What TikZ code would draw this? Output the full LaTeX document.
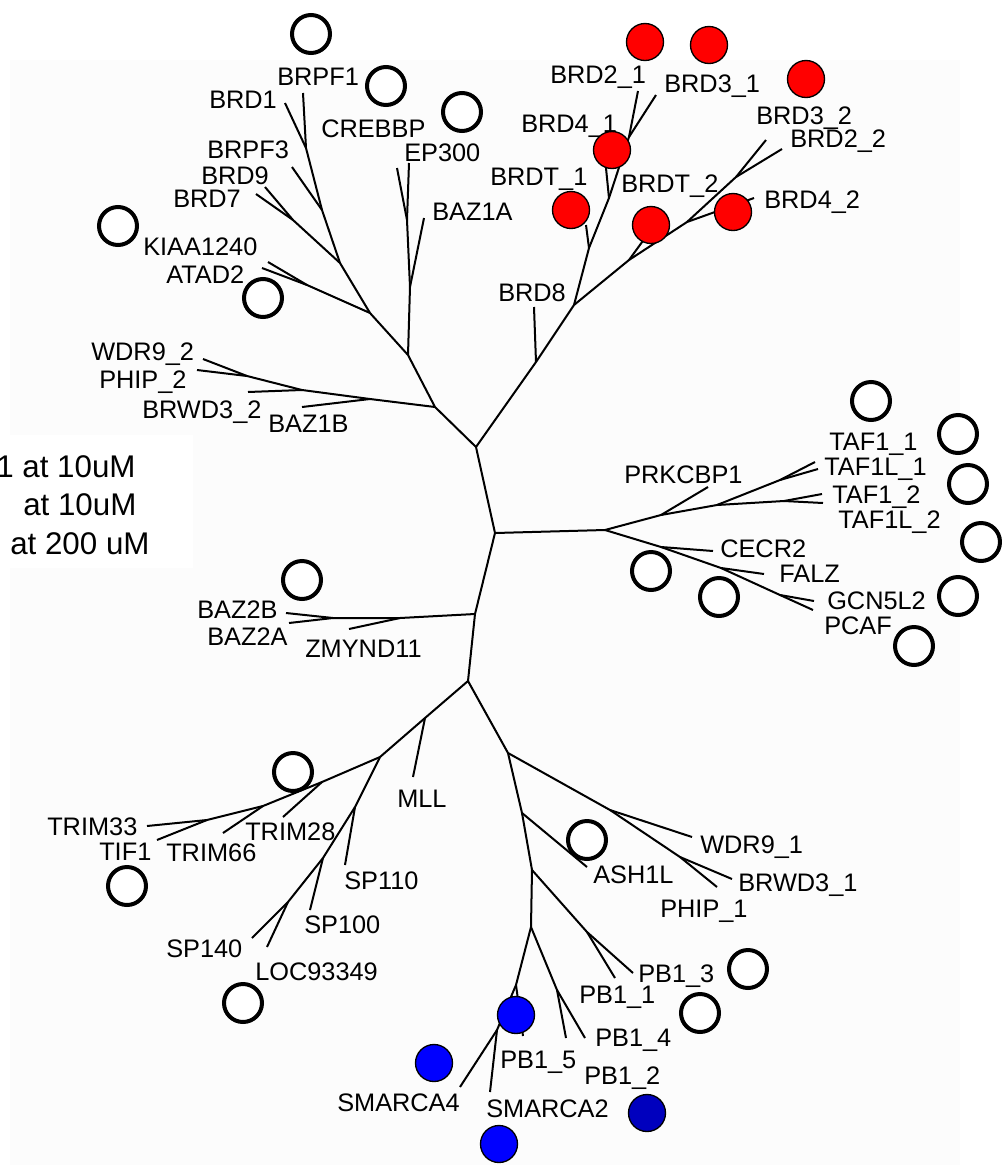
\documentclass[tikz,border=0pt]{standalone}
\usepackage{fontspec}
\setmainfont{Liberation Sans}
\definecolor{hitred}{RGB}{255,0,0}
\definecolor{hitblue}{RGB}{0,0,255}
\definecolor{hitdark}{RGB}{0,0,190}
\tikzset{
  branch/.style={line width=1.5pt, line join=round},
  lbl/.style={anchor=base west, inner sep=0pt, font=\fontsize{19}{22}\selectfont},
  key/.style={anchor=base west, inner sep=0pt, font=\fontsize{23.5}{28}\selectfont},
  ring/.style={circle, draw, fill=white, line width=3pt, minimum size=28.5pt, inner sep=0pt},
  hit/.style={circle, draw, fill=#1, line width=1pt, minimum size=27.75pt, inner sep=0pt},
}
\begin{document}
\begin{tikzpicture}[x=0.75pt, y=-0.75pt]
	\useasboundingbox (0, 0) rectangle (1001, 1165);
	% faint panel and key box
	\fill[black!1] (10, 60) rectangle (960, 1165);
	\fill[white] (0, 435) rectangle (193, 568);
	% trunk
	\coordinate (r1) at (476, 447);
	\coordinate (r2) at (495, 533);
	\coordinate (r3) at (475, 614);
	\coordinate (r4) at (468, 681);
	% upper left clade
	\coordinate (u1) at (435, 407);
	\coordinate (u2) at (408, 355);
	\coordinate (u3) at (370, 313);
	\coordinate (u4) at (340, 263);
	\coordinate (u5) at (322, 210);
	\coordinate (u6) at (306, 148);
	\coordinate (u7) at (293, 220);
	\coordinate (u8) at (307, 285);
	\coordinate (u9) at (410, 287);
	\coordinate (u10) at (407, 220);
	\coordinate (u11) at (370, 399);
	\coordinate (u12) at (302, 390);
	\coordinate (u13) at (247, 376);
	\coordinate (tBRPF1) at (303, 93);
	\coordinate (tBRD1) at (285, 103);
	\coordinate (tBRPF3) at (292, 167);
	\coordinate (tBRD9) at (265, 187);
	\coordinate (tBRD7) at (256, 194);
	\coordinate (tKIAA) at (268, 262);
	\coordinate (tATAD2) at (262, 268);
	\coordinate (tEP300) at (409, 163);
	\coordinate (tCREBBP) at (397, 168);
	\coordinate (tBAZ1A) at (424, 218);
	\coordinate (tWDR9b) at (203, 359);
	\coordinate (tPHIPb) at (197, 370);
	\coordinate (tBRWD3b) at (248, 392);
	\coordinate (tBAZ1B) at (302, 407);
	% BET clade
	\coordinate (b1) at (536, 362);
	\coordinate (b2) at (574, 305);
	\coordinate (b3) at (589, 248);
	\coordinate (b4) at (609, 198);
	\coordinate (b5) at (629, 137);
	\coordinate (b6) at (629, 260);
	\coordinate (b7) at (687, 222);
	\coordinate (b8) at (736, 177);
	\coordinate (tBRD8) at (534, 307);
	\coordinate (tBRDTa) at (586, 225);
	\coordinate (tBRD4a) at (606, 168);
	\coordinate (tBRD2a) at (638, 91);
	\coordinate (tBRD3a) at (656, 95);
	\coordinate (tBRDTb) at (645, 238);
	\coordinate (tBRD4b) at (754, 198);
	\coordinate (tBRD3b) at (766, 140);
	\coordinate (tBRD2b) at (782, 149);
	% TAF / GCN5 clade
	\coordinate (c1) at (605, 530);
	\coordinate (c2) at (661, 515);
	\coordinate (c3) at (717, 505);
	\coordinate (c4) at (780, 480);
	\coordinate (c5) at (784, 501);
	\coordinate (c6) at (661, 547);
	\coordinate (c7) at (721, 568);
	\coordinate (c8) at (780, 595);
	\coordinate (tPRKCBP1) at (708, 487);
	\coordinate (tTAF1a) at (815, 462);
	\coordinate (tTAF1La) at (818, 469);
	\coordinate (tTAF1b) at (822, 494);
	\coordinate (tTAF1Lb) at (823, 503);
	\coordinate (tCECR2) at (713, 551);
	\coordinate (tFALZ) at (764, 574);
	\coordinate (tGCN5L2) at (814, 601);
	\coordinate (tPCAF) at (813, 610);
	% BAZ2 clade
	\coordinate (z1) at (400, 618);
	\coordinate (z2) at (333, 618);
	\coordinate (tZMYND11) at (349, 629);
	\coordinate (tBAZ2B) at (286, 613);
	\coordinate (tBAZ2A) at (289, 623);
	% TRIM / SP clade
	\coordinate (m1) at (425, 718);
	\coordinate (m2) at (380, 757);
	\coordinate (t1) at (322, 782);
	\coordinate (t2) at (263, 806);
	\coordinate (t3) at (207, 820);
	\coordinate (s1) at (355, 807);
	\coordinate (s2) at (323, 858);
	\coordinate (s3) at (288, 902);
	\coordinate (tMLL) at (413, 777);
	\coordinate (tTRIM28) at (283, 817);
	\coordinate (tTRIM66) at (223, 833);
	\coordinate (tTRIM33) at (147, 826);
	\coordinate (tTIF1) at (157, 840);
	\coordinate (tSP110) at (345, 865);
	\coordinate (tSP100) at (310, 910);
	\coordinate (tSP140) at (252, 938);
	\coordinate (tLOC) at (267, 947);
	% PB1 / SMARCA clade
	\coordinate (p1) at (508, 753);
	\coordinate (p2) at (522, 813);
	\coordinate (p3) at (532, 870);
	\coordinate (p4) at (587, 932);
	\coordinate (p5) at (531, 927);
	\coordinate (p6) at (516, 985);
	\coordinate (p7) at (497, 1030);
	\coordinate (p8) at (557, 990);
	\coordinate (w1) at (610, 810);
	\coordinate (w2) at (680, 857);
	\coordinate (tWDR9a) at (692, 837);
	\coordinate (tBRWD3a) at (732, 879);
	\coordinate (tPHIPa) at (717, 887);
	\coordinate (tASH1L) at (587, 867);
	\coordinate (tPB11) at (615, 978);
	\coordinate (tPB13) at (633, 973);
	\coordinate (tPB15) at (523, 1036);
	\coordinate (tSMARCA4) at (460, 1087);
	\coordinate (tSMARCA2) at (490, 1092);
	\coordinate (tPB12) at (566, 1038);
	\coordinate (tPB14) at (585, 1038);

	% branches
	\draw[branch] (u1) -- (r1) -- (r2) -- (r3) -- (r4);
	\draw[branch] (r1) -- (b1) -- (b2);
	\draw[branch] (r2) -- (c1);
	\draw[branch] (r3) -- (z1) -- (z2);
	\draw[branch] (r4) -- (m1) -- (m2);
	\draw[branch] (r4) -- (p1) -- (p2) -- (p3) -- (p5);

	\draw[branch] (u1) -- (u2) -- (u3) -- (u4) -- (u5) -- (u6) -- (tBRPF1);
	\draw[branch] (u6) -- (tBRD1);
	\draw[branch] (u5) -- (tBRPF3);
	\draw[branch] (u4) -- (u7) -- (tBRD9);
	\draw[branch] (u7) -- (tBRD7);
	\draw[branch] (u3) -- (u8) -- (tKIAA);
	\draw[branch] (u8) -- (tATAD2);
	\draw[branch] (u2) -- (u9) -- (u10) -- (tEP300);
	\draw[branch] (u10) -- (tCREBBP);
	\draw[branch] (u9) -- (tBAZ1A);
	\draw[branch] (u1) -- (u11) -- (u12) -- (u13) -- (tWDR9b);
	\draw[branch] (u13) -- (tPHIPb);
	\draw[branch] (u12) -- (tBRWD3b);
	\draw[branch] (u11) -- (tBAZ1B);

	\draw[branch] (b1) -- (tBRD8);
	\draw[branch] (b2) -- (b3) -- (b4) -- (b5) -- (tBRD2a);
	\draw[branch] (b5) -- (tBRD3a);
	\draw[branch] (b4) -- (tBRD4a);
	\draw[branch] (b3) -- (tBRDTa);
	\draw[branch] (b2) -- (b6) -- (b7) -- (b8) -- (tBRD3b);
	\draw[branch] (b8) -- (tBRD2b);
	\draw[branch] (b7) -- (tBRD4b);
	\draw[branch] (b6) -- (tBRDTb);

	\draw[branch] (c1) -- (c2) -- (c3) -- (c4) -- (tTAF1a);
	\draw[branch] (c4) -- (tTAF1La);
	\draw[branch] (c3) -- (c5) -- (tTAF1b);
	\draw[branch] (c5) -- (tTAF1Lb);
	\draw[branch] (c2) -- (tPRKCBP1);
	\draw[branch] (c1) -- (c6) -- (c7) -- (c8) -- (tGCN5L2);
	\draw[branch] (c8) -- (tPCAF);
	\draw[branch] (c7) -- (tFALZ);
	\draw[branch] (c6) -- (tCECR2);

	\draw[branch] (z1) -- (tZMYND11);
	\draw[branch] (z2) -- (tBAZ2B);
	\draw[branch] (z2) -- (tBAZ2A);

	\draw[branch] (m1) -- (tMLL);
	\draw[branch] (m2) -- (t1) -- (t2) -- (t3) -- (tTRIM33);
	\draw[branch] (t3) -- (tTIF1);
	\draw[branch] (t2) -- (tTRIM66);
	\draw[branch] (t1) -- (tTRIM28);
	\draw[branch] (m2) -- (s1) -- (s2) -- (s3) -- (tSP140);
	\draw[branch] (s3) -- (tLOC);
	\draw[branch] (s2) -- (tSP100);
	\draw[branch] (s1) -- (tSP110);

	\draw[branch] (p1) -- (w1) -- (tWDR9a);
	\draw[branch] (w1) -- (w2) -- (tBRWD3a);
	\draw[branch] (w2) -- (tPHIPa);
	\draw[branch] (p2) -- (tASH1L);
	\draw[branch] (p3) -- (p4) -- (tPB11);
	\draw[branch] (p4) -- (tPB13);
	\draw[branch] (p5) -- (p6) -- (tPB15);
	\draw[branch] (p6) -- (p7) -- (tSMARCA4);
	\draw[branch] (p7) -- (tSMARCA2);
	\draw[branch] (p5) -- (p8) -- (tPB12);
	\draw[branch] (p8) -- (tPB14);

	% labels
	\node[lbl] (lBRPF1) at (277, 85) {BRPF1};
	\node[lbl] (lBRD1) at (209, 108) {BRD1};
	\node[lbl] (lCREBBP) at (321, 137) {CREBBP};
	\node[lbl] (lEP300) at (404, 161) {EP300};
	\node[lbl] (lBRPF3) at (207, 158) {BRPF3};
	\node[lbl] (lBRD9) at (201, 184) {BRD9};
	\node[lbl] (lBRD7) at (173, 207) {BRD7};
	\node[lbl] (lBAZ1A) at (432, 220) {BAZ1A};
	\node[lbl] (lKIAA) at (143, 255) {KIAA1240};
	\node[lbl] (lATAD2) at (166, 283) {ATAD2};
	\node[lbl] (lWDR9b) at (91, 360) {WDR9\_2};
	\node[lbl] (lPHIPb) at (99, 388) {PHIP\_2};
	\node[lbl] (lBRWD3b) at (142, 418) {BRWD3\_2};
	\node[lbl] (lBAZ1B) at (268, 432) {BAZ1B};
	\node[lbl] (lBRD2a) at (550, 83) {BRD2\_1};
	\node[lbl] (lBRD3a) at (664, 92) {BRD3\_1};
	\node[lbl] (lBRD4a) at (521, 132) {BRD4\_1};
	\node[lbl] (lBRDTa) at (490, 185) {BRDT\_1};
	\node[lbl] (lBRDTb) at (621, 192) {BRDT\_2};
	\node[lbl] (lBRD3b) at (756, 124) {BRD3\_2};
	\node[lbl] (lBRD2b) at (790, 147) {BRD2\_2};
	\node[lbl] (lBRD4b) at (764, 208) {BRD4\_2};
	\node[lbl] (lBRD8) at (498, 301) {BRD8};
	\node[lbl] (lPRKCBP1) at (624, 483) {PRKCBP1};
	\node[lbl] (lTAF1a) at (829, 450) {TAF1\_1};
	\node[lbl] (lTAF1La) at (824, 475) {TAF1L\_1};
	\node[lbl] (lTAF1b) at (832, 503) {TAF1\_2};
	\node[lbl] (lTAF1Lb) at (838, 528) {TAF1L\_2};
	\node[lbl] (lCECR2) at (720, 557) {CECR2};
	\node[lbl] (lFALZ) at (779, 582) {FALZ};
	\node[lbl] (lGCN5L2) at (827, 609) {GCN5L2};
	\node[lbl] (lPCAF) at (824, 634) {PCAF};
	\node[lbl] (lBAZ2B) at (197, 618) {BAZ2B};
	\node[lbl] (lBAZ2A) at (207, 645) {BAZ2A};
	\node[lbl] (lZMYND11) at (305, 657) {ZMYND11};
	\node[lbl] (lMLL) at (397, 807) {MLL};
	\node[lbl] (lTRIM33) at (47, 835) {TRIM33};
	\node[lbl] (lTIF1) at (99, 860) {TIF1};
	\node[lbl] (lTRIM66) at (166, 861) {TRIM66};
	\node[lbl] (lTRIM28) at (245, 840) {TRIM28};
	\node[lbl] (lSP110) at (344, 889) {SP110};
	\node[lbl] (lSP100) at (304, 933) {SP100};
	\node[lbl] (lSP140) at (166, 957) {SP140};
	\node[lbl] (lLOC) at (255, 980) {LOC93349};
	\node[lbl] (lWDR9a) at (700, 853) {WDR9\_1};
	\node[lbl] (lBRWD3a) at (738, 891) {BRWD3\_1};
	\node[lbl] (lASH1L) at (593, 883) {ASH1L};
	\node[lbl] (lPHIPa) at (660, 917) {PHIP\_1};
	\node[lbl] (lPB13) at (638, 982) {PB1\_3};
	\node[lbl] (lPB11) at (579, 1003) {PB1\_1};
	\node[lbl] (lPB14) at (595, 1046) {PB1\_4};
	\node[lbl] (lPB15) at (500, 1068) {PB1\_5};
	\node[lbl] (lPB12) at (584, 1084) {PB1\_2};
	\node[lbl] (lSMARCA4) at (337, 1111) {SMARCA4};
	\node[lbl] (lSMARCA2) at (486, 1117) {SMARCA2};

	% key, cut at the left edge
	\node[key] (keyA) at (-4, 477) {1 at 10uM};
	\node[key] (keyB) at (23, 515) {at 10uM};
	\node[key] (keyC) at (10, 554) {at 200 uM};

	% open rings
	\node[ring] (oBRPF1) at (311, 34) {};
	\node[ring] (oBRD1) at (386, 86) {};
	\node[ring] (oCREBBP) at (462, 112) {};
	\node[ring] (oKIAA) at (118, 226) {};
	\node[ring] (oATAD2) at (263, 298) {};
	\node[ring] (oTAF1a) at (871, 401) {};
	\node[ring] (oTAF1La) at (958, 434) {};
	\node[ring] (oTAF1b) at (968, 484) {};
	\node[ring] (oTAF1Lb) at (981, 542) {};
	\node[ring] (oGCN5L2) at (958, 596) {};
	\node[ring] (oPCAF) at (914, 646) {};
	\node[ring] (oCECR2) at (651, 571) {};
	\node[ring] (oFALZ) at (719, 597) {};
	\node[ring] (oBAZ2B) at (302, 580) {};
	\node[ring] (oTRIM28) at (293, 772) {};
	\node[ring] (oTIF1) at (127, 886) {};
	\node[ring] (oLOC) at (243, 1003) {};
	\node[ring] (oASH1L) at (587, 840) {};
	\node[ring] (oPB13) at (748, 969) {};
	\node[ring] (oPB11) at (700, 1013) {};

	% filled hits
	\node[hit=hitred] (hBRD2a) at (645, 42) {};
	\node[hit=hitred] (hBRD3a) at (709, 45) {};
	\node[hit=hitred] (hBRD3b) at (806, 79) {};
	\node[hit=hitred] (hBRD4a) at (612, 150) {};
	\node[hit=hitred] (hBRDTa) at (571, 210) {};
	\node[hit=hitred] (hBRDTb) at (651, 225) {};
	\node[hit=hitred] (hBRD4b) at (733, 212) {};
	\node[hit=hitblue] (hPB15) at (516, 1015) {};
	\node[hit=hitblue] (hSMARCA4) at (434, 1063) {};
	\node[hit=hitblue] (hSMARCA2) at (499, 1144) {};
	\node[hit=hitdark] (hPB12) at (647, 1113) {};
\end{tikzpicture}
\end{document}
